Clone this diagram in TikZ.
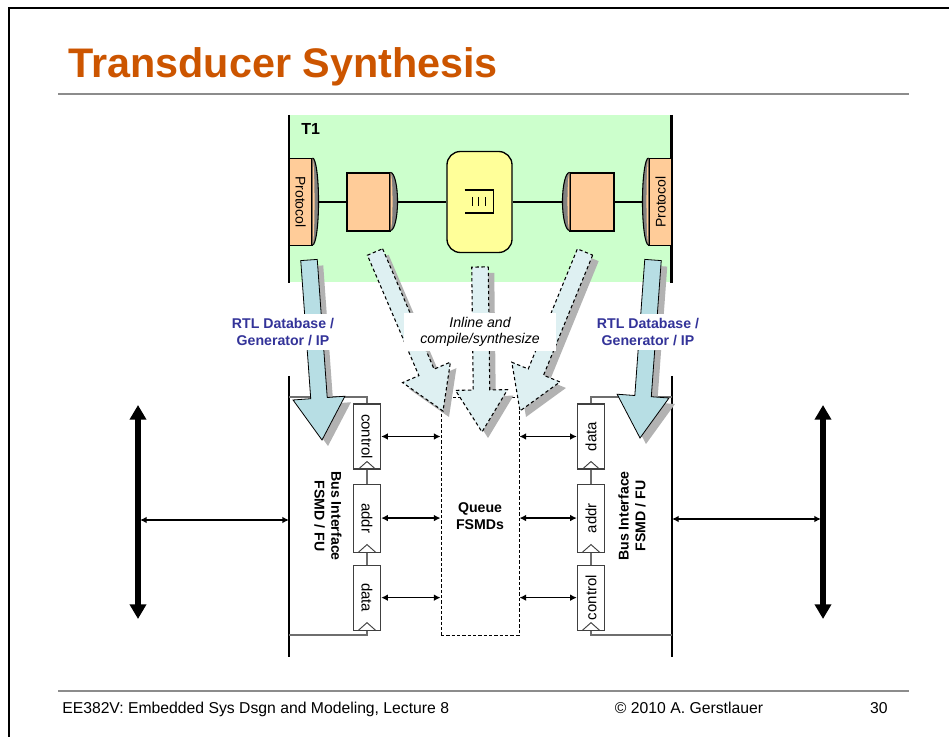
\documentclass[tikz,border=0pt]{standalone}
\usepackage{fontspec}
\setmainfont{Liberation Sans}
\usepackage{tikz}
\usetikzlibrary{arrows.meta,positioning,calc}
\definecolor{titleorange}{RGB}{204,85,0}
\definecolor{rulegray}{RGB}{140,140,140}
\definecolor{t1green}{RGB}{204,255,204}
\definecolor{portorange}{RGB}{255,204,153}
\definecolor{queueyellow}{RGB}{255,255,153}
\definecolor{capgray}{RGB}{128,128,128}
\definecolor{rtlblue}{RGB}{51,51,153}
\definecolor{arrowblue}{RGB}{183,222,228}
\definecolor{dashblue}{RGB}{222,240,242}
\definecolor{shadowgray}{RGB}{178,178,178}
\definecolor{feedgray}{RGB}{110,110,110}
\tikzstyle{portbox}  = [rectangle, draw, line width=0.8pt, fill=portorange, inner sep=0pt,
                        font=\fontsize{10.5}{12}\selectfont]
\tikzstyle{regbox}   = [rectangle, draw=black!75, line width=0.8pt, fill=white, inner sep=0pt,
                        minimum width=20.5pt, font=\fontsize{11.2}{12}\selectfont]
\tikzstyle{blabel}   = [align=center, inner sep=0pt, font=\bfseries\fontsize{10.6}{12.5}\selectfont]
\tikzstyle{rtl}      = [blabel, text=rtlblue, fill=white, inner sep=3pt]
\tikzstyle{feed}     = [draw=feedgray, line width=0.9pt]
\tikzstyle{darrow}   = [{Latex[length=5pt,width=5pt]}-{Latex[length=5pt,width=5pt]}, line width=1.1pt]
\tikzstyle{busarrow} = [{Triangle[length=11pt,width=12pt]}-{Triangle[length=11pt,width=12pt]}, line width=4pt]
\tikzstyle{solidfat} = [fill=arrowblue, draw, line width=0.6pt]
\tikzstyle{dashfat}  = [fill=dashblue, draw, line width=0.8pt, dash pattern=on 2.5pt off 2pt]
% fat arrow body: style, tail, tip
\newcommand{\fatpoly}[3]{%
  \coordinate (fp-base) at ($(#3)!31.5pt!(#2)$);
  \path[#1] ($(#2)!6.2pt!90:(#3)$) -- ($(fp-base)!6.2pt!90:(#3)$) -- ($(fp-base)!19.5pt!90:(#3)$)
    -- (#3) -- ($(fp-base)!19.5pt!-90:(#3)$) -- ($(fp-base)!6.2pt!-90:(#3)$)
    -- ($(#2)!6.2pt!-90:(#3)$) -- cycle;}
\newcommand{\fatarrow}[3]{%
  \coordinate (fa-t) at ($(#2)+(4.5pt,-4.5pt)$);
  \coordinate (fa-h) at ($(#3)+(4.5pt,-4.5pt)$);
  \fatpoly{fill=shadowgray}{fa-t}{fa-h}
  \fatpoly{#1}{#2}{#3}}
% port caps: node, bulge, half height
\newcommand{\capright}[3]{%
  \fill[capgray] (#1.north east) arc[start angle=90, end angle=-90, x radius=#2, y radius=#3] -- cycle;
  \fill[portorange] (#1.north east) arc[start angle=90, end angle=-90, x radius=1.5pt, y radius=#3] -- cycle;
  \draw[line width=0.8pt] (#1.north east) arc[start angle=90, end angle=-90, x radius=#2, y radius=#3];}
\newcommand{\capleft}[3]{%
  \fill[capgray] (#1.north west) arc[start angle=90, end angle=270, x radius=#2, y radius=#3] -- cycle;
  \fill[portorange] (#1.north west) arc[start angle=90, end angle=270, x radius=1.5pt, y radius=#3] -- cycle;
  \draw[line width=0.8pt] (#1.north west) arc[start angle=90, end angle=270, x radius=#2, y radius=#3];}
\newcommand{\clock}[1]{%
  \draw[black!75, line width=0.7pt] ($(#1.south)+(-9,0)$) -- ($(#1.south)+(0,-8)$) -- ($(#1.south)+(9,0)$);}

\begin{document}
\begin{tikzpicture}[x=0.75pt, y=-0.75pt]
\useasboundingbox (0,0) rectangle (949,737);
% Slide frame and title
\draw[line width=1.5pt] (9,737) -- (9,8) -- (949,8);
\node[anchor=base west, inner sep=0pt, text=titleorange,
  font=\bfseries\fontsize{31}{36}\selectfont] (title) at (68,78) {Transducer Synthesis};
\draw[rulegray, line width=2.2pt] (58,94) -- (909,94);
% T1
\node[fill=t1green, inner sep=0pt, minimum width=286.5pt, minimum height=125.25pt,
  anchor=north west] (t1) at (289,115) {};
\draw[line width=2.2pt] (t1.north west) -- (t1.south west) (t1.north east) -- (t1.south east);
\node[anchor=north west, inner sep=0pt, font=\bfseries\fontsize{12}{14}\selectfont] (t1name)
  at (301,123) {T1};
\node[portbox, minimum width=17.25pt, minimum height=65.25pt] (protL) at (300.5,202)
  {\rotatebox{-90}{Protocol}};
\node[portbox, minimum width=32.25pt, minimum height=43.5pt] (chanL) at (368.5,202) {};
\node[draw, line width=1pt, fill=queueyellow, rounded corners=10pt, minimum width=48.75pt,
  minimum height=75.75pt] (qsym) at (479.5,202) {};
\node[portbox, minimum width=33pt, minimum height=43.5pt] (chanR) at (592,202) {};
\node[portbox, minimum width=17.25pt, minimum height=65.25pt] (protR) at (660.5,202)
  {\rotatebox{90}{Protocol}};
\capright{protL}{4.5pt}{32.625pt}
\capright{chanL}{5.25pt}{21.75pt}
\capleft{chanR}{5.25pt}{21.75pt}
\capleft{protR}{4.5pt}{32.625pt}
% queue symbol
\draw[line width=1pt] ($(qsym)+(-15,-12)$) -- ($(qsym)+(14,-12)$) -- ($(qsym)+(14,11)$)
  -- ($(qsym)+(-15,11)$);
\foreach \dx in {-7.5,-1.5,5.5}
  \draw[line width=0.6pt] ($(qsym)+(\dx,-5)$) -- ($(qsym)+(\dx,4)$);
% channels
\coordinate (protL-tip) at ($(protL.east)+(6,0)$);
\coordinate (chanL-tip) at ($(chanL.east)+(7,0)$);
\coordinate (chanR-tip) at ($(chanR.west)+(-7,0)$);
\coordinate (protR-tip) at ($(protR.west)+(-6,0)$);
\draw[line width=0.8pt] (protL-tip) -- (chanL.west);
\draw[line width=0.8pt] (chanL-tip) -- (qsym.west);
\draw[line width=0.8pt] (qsym.east) -- (chanR-tip);
\draw[line width=0.8pt] (chanR.east) -- (protR-tip);
% Bus interfaces
\draw[line width=1.2pt] (289,376) -- (289,657);
\draw[line width=1.2pt] (672,376) -- (672,657);
\node[regbox, minimum height=48.75pt] (ctlL) at (367,436.5) {\rotatebox{-90}{control}};
\node[regbox, minimum height=51pt, below=10.5pt of ctlL] (addrL) {\rotatebox{-90}{addr}};
\node[regbox, minimum height=48.75pt, below=9pt of addrL] (dataL) {\rotatebox{-90}{data}};
\node[regbox, minimum height=48.75pt] (dataR) at (591,436.5) {\rotatebox{90}{data}};
\node[regbox, minimum height=51pt, below=10.5pt of dataR] (addrR) {\rotatebox{90}{addr}};
\node[regbox, minimum height=48.75pt, below=9pt of addrR] (ctlR) {\rotatebox{90}{control}};
\foreach \r in {ctlL,addrL,dataL,dataR,addrR,ctlR} \clock{\r};
\coordinate (bifL-n) at (289,397);
\coordinate (bifL-s) at (289,635);
\coordinate (bifR-n) at (672,397);
\coordinate (bifR-s) at (672,635);
\draw[feed] (ctlL.north) |- (bifL-n);
\draw[feed] (dataL.south) |- (bifL-s);
\draw[feed] (ctlL) -- (addrL) (addrL) -- (dataL);
\draw[feed] (dataR.north) |- (bifR-n);
\draw[feed] (ctlR.south) |- (bifR-s);
\draw[feed] (dataR) -- (addrR) (addrR) -- (ctlR);
\node[blabel, rotate=-90] (bifLname) at (328,516) {Bus Interface\\FSMD / FU};
\node[blabel, rotate=90] (bifRname) at (632,516) {Bus Interface\\FSMD / FU};
% Queues
\node[blabel, draw, line width=0.7pt, dash pattern=on 2.5pt off 1.5pt, minimum width=58.5pt,
  minimum height=178.5pt] (qfsmd) at (480,516) {Queue\\FSMDs};
\foreach \r in {ctlL,addrL,dataL}
  \draw[darrow] (\r.east) -- (\r.east -| qfsmd.west);
\foreach \r in {dataR,addrR,ctlR}
  \draw[darrow] (\r.west -| qfsmd.east) -- (\r.west);
% Busses
\coordinate (busL-n) at (138,405);
\coordinate (busL-s) at (138,619);
\coordinate (busR-n) at (823,405);
\coordinate (busR-s) at (823,619);
\draw[busarrow] (busL-n) -- (busL-s);
\draw[busarrow] (busR-n) -- (busR-s);
\coordinate (busL-tap) at (140,520);
\coordinate (bifL-tap) at (289,520);
\coordinate (bifR-tap) at (672,519);
\coordinate (busR-tap) at (821,519);
\draw[darrow] (busL-tap) -- (bifL-tap);
\draw[darrow] (bifR-tap) -- (busR-tap);
% Synthesis arrows
\coordinate (rtlL-t) at (309,260);
\coordinate (rtlL-h) at (322,440);
\coordinate (inlL-t) at (375,252);
\coordinate (inlL-h) at (443,411);
\coordinate (inlC-t) at (480,267);
\coordinate (inlC-h) at (482,432);
\coordinate (inlR-t) at (585,252);
\coordinate (inlR-h) at (520,411);
\coordinate (rtlR-t) at (653,260);
\coordinate (rtlR-h) at (640,438);
\fatarrow{solidfat}{rtlL-t}{rtlL-h}
\fatarrow{dashfat}{inlL-t}{inlL-h}
\fatarrow{dashfat}{inlC-t}{inlC-h}
\fatarrow{dashfat}{inlR-t}{inlR-h}
\fatarrow{solidfat}{rtlR-t}{rtlR-h}
\node[rtl] (rtlLname) at (283,332) {RTL Database /\\Generator / IP};
\node[rtl] (rtlRname) at (648,332) {RTL Database /\\Generator / IP};
\node[fill=white, align=center, inner xsep=12pt, inner ysep=3pt,
  font=\itshape\fontsize{10.6}{12.5}\selectfont] (inline) at (480,332)
  {Inline and\\compile/synthesize};
% Footer
\draw[rulegray, line width=2.2pt] (58,691) -- (909,691);
\node[anchor=base west, inner sep=0pt, font=\fontsize{11.8}{13}\selectfont] (course)
  at (62,713) {EE382V: Embedded Sys Dsgn and Modeling, Lecture 8};
\node[anchor=base, inner sep=0pt, font=\fontsize{11.8}{13}\selectfont] (copyright)
  at (689,713) {© 2010 A. Gerstlauer};
\node[anchor=base east, inner sep=0pt, font=\fontsize{11.8}{13}\selectfont] (pagenum)
  at (888,713) {30};
\end{tikzpicture}
\end{document}
